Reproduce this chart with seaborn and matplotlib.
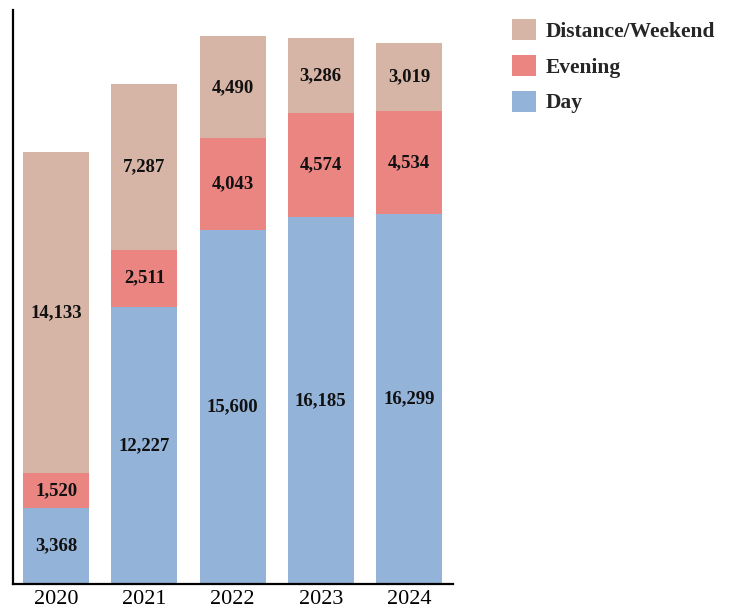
import pandas as pd
import numpy as np
import matplotlib
matplotlib.use("Agg")
import matplotlib.pyplot as plt
import seaborn as sns

years = ['2020', '2021', '2022', '2023', '2024']
day = [3368, 12227, 15600, 16185, 16299]
evening = [1520, 2511, 4043, 4574, 4534]
distance = [14133, 7287, 4490, 3286, 3019]

df = pd.DataFrame({'Year': years, 'Day': day, 'Evening': evening,
                   'Distance/Weekend': distance})

sns.set_style('white')
plt.rcParams['font.family'] = ['Liberation Serif', 'DejaVu Serif']

colors = {'Day': '#93B3D8', 'Evening': '#EB8582', 'Distance/Weekend': '#D6B4A6'}

fig = plt.figure(figsize=(7.32, 6.1), dpi=100)
ax = fig.add_axes([0.0178, 0.0426, 0.6011, 0.941])

bottom = np.zeros(len(years))
for col in ['Day', 'Evening', 'Distance/Weekend']:
    sns.barplot(data=df, x='Year', y=col, color=colors[col], width=0.75,
                bottom=bottom, ax=ax, label=col, saturation=1, linewidth=0)
    vals = df[col].values
    for i, v in enumerate(vals):
        ax.text(i, bottom[i] + v / 2, f'{v:,}', ha='center', va='center',
                fontsize=13.5, fontweight='bold', color='#111111')
    bottom = bottom + vals

ax.set_xlim(-0.49, 4.5)
ax.set_ylim(0, 25300)
ax.set_xlabel('')
ax.set_ylabel('')
ax.set_yticks([])
ax.tick_params(axis='x', length=0, labelsize=16, pad=4, colors='black')
sns.despine(ax=ax)
for s in ['left', 'bottom']:
    ax.spines[s].set_color('black')
    ax.spines[s].set_linewidth(1.6)

handles, labels = ax.get_legend_handles_labels()
if ax.legend_:
    ax.legend_.remove()
fig.legend(handles[::-1], labels[::-1], loc='upper left',
           bbox_to_anchor=(0.685, 0.986), frameon=False,
           prop={'family': 'Liberation Serif', 'weight': 'bold', 'size': 15.5},
           handlelength=1.12, handleheight=1.12, labelspacing=0.6,
           handletextpad=0.42, borderpad=0)

fig.savefig('out.png', dpi=100)
